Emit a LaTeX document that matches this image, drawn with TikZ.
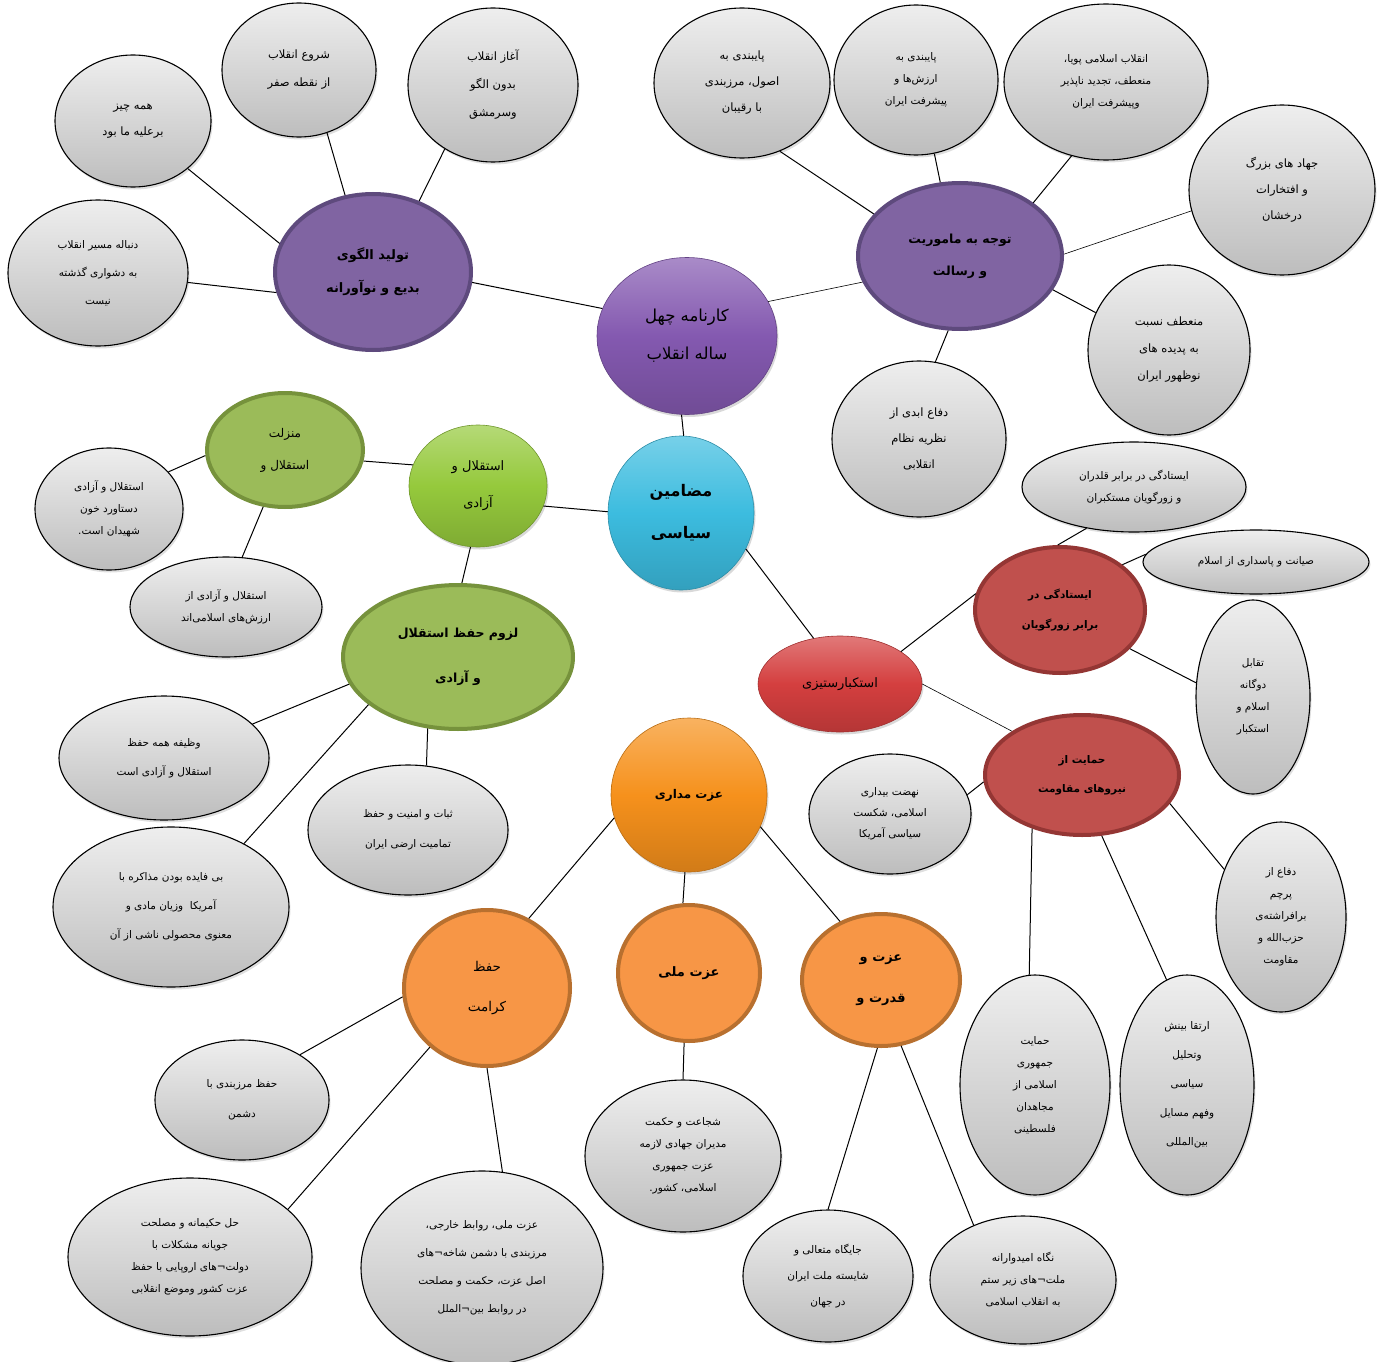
\documentclass[tikz,border=0pt]{standalone}
\usepackage{fontspec}
\newfontfamily\arabicfont[Script=Arabic]{DejaVu Sans}
\TeXXeTstate=1
\usetikzlibrary{shapes.geometric,shadows}
\newcommand\rtxt[1]{\beginR #1\endR}
\newcommand\fsz[2]{\arabicfont\fontsize{#1}{#2}\selectfont}
\definecolor{grayT}{HTML}{EEEEEE}
\definecolor{grayB}{HTML}{BDBDBD}
\definecolor{purpF}{HTML}{8064A2}
\definecolor{purpB}{HTML}{5E4A7D}
\definecolor{greenF}{HTML}{9BBB59}
\definecolor{greenB}{HTML}{76923C}
\definecolor{redF}{HTML}{C0504D}
\definecolor{redB}{HTML}{943634}
\definecolor{orangeF}{HTML}{F79646}
\definecolor{orangeB}{HTML}{B8702F}
\definecolor{purpG}{HTML}{8459B0}
\definecolor{cyanG}{HTML}{3CBCDF}
\definecolor{greenG}{HTML}{95C93C}
\definecolor{redG}{HTML}{D43F3F}
\definecolor{orangeG}{HTML}{F6911C}
\tikzset{
  sz/.style 2 args={minimum width=#1pt, minimum height=#2pt},
  basenode/.style={ellipse, inner sep=0pt, align=center},
  graynode/.style={basenode, draw=black, line width=1.1pt, top color=grayT, bottom color=grayB,
    drop shadow={shadow xshift=1.5pt, shadow yshift=-2.5pt, opacity=0.25}},
  flatnode/.style 2 args={basenode, fill=#1, draw=#2, line width=4pt},
  glossnode/.style={basenode, top color=#1!70!white, bottom color=#1!85!black, middle color=#1,
    draw=#1!75!black, line width=0.6pt,
    drop shadow={shadow xshift=1.5pt, shadow yshift=-2.5pt, opacity=0.3}},
  conn/.style={line width=1pt, black},
  thinconn/.style={line width=0.6pt, black}
}
\begin{document}
\begin{tikzpicture}[x=1pt,y=-1pt]
\useasboundingbox (0,0) rectangle (1387,1362);

% ---------- purple group ----------
\node[glossnode=purpG, sz={180}{157}, font=\fsz{16.5}{38}] (c) at (687,336) {\rtxt{کارنامه چهل}\\\rtxt{ساله انقلاب}};
\node[flatnode={purpF}{purpB}, sz={196}{156}, font=\fsz{13}{33}\bfseries] (p1) at (373,272) {\rtxt{تولید الگوی}\\\rtxt{بدیع و نوآورانه}};
\node[flatnode={purpF}{purpB}, sz={204}{146}, font=\fsz{12.5}{32}\bfseries] (p2) at (960,256) {\rtxt{توجه به ماموریت}\\\rtxt{و رسالت}};

\node[graynode, sz={156}{132}, font=\fsz{11.5}{26}] (g1) at (133,121) {\rtxt{همه چیز}\\\rtxt{برعلیه ما بود}};
\node[graynode, sz={154}{134}, font=\fsz{11.5}{28}] (g2) at (299,70) {\rtxt{شروع انقلاب}\\\rtxt{از نقطه صفر}};
\node[graynode, sz={170}{154}, font=\fsz{11.5}{28}] (g3) at (493,85) {\rtxt{آغاز انقلاب}\\\rtxt{بدون الگو}\\\rtxt{وسرمشق}};
\node[graynode, sz={180}{146}, font=\fsz{10.5}{28}] (g4) at (98,273) {\rtxt{دنباله مسیر انقلاب}\\\rtxt{به دشواری گذشته}\\\rtxt{نیست}};

\node[graynode, sz={176}{150}, font=\fsz{11.5}{26}] (g5) at (742,83) {\rtxt{پایبندی به}\\\rtxt{اصول، مرزبندی}\\\rtxt{با رقیبان}};
\node[graynode, sz={164}{150}, font=\fsz{10.5}{22}] (g6) at (916,80) {\rtxt{پایبندی به}\\\rtxt{ارزش‌ها و}\\\rtxt{پیشرفت ایران}};
\node[graynode, sz={204}{156}, font=\fsz{10.5}{22}] (g7) at (1106,82) {\rtxt{انقلاب اسلامی پویا،}\\\rtxt{منعطف، تجدید ناپذیر}\\\rtxt{وپیشرفت ایران}};
\node[graynode, sz={186}{170}, font=\fsz{11.5}{26}] (g8) at (1282,190) {\rtxt{جهاد های بزرگ}\\\rtxt{و افتخارات}\\\rtxt{درخشان}};
\node[graynode, sz={162}{170}, font=\fsz{11.5}{27}] (g9) at (1169,350) {\rtxt{منعطف نسبت}\\\rtxt{به پدیده های}\\\rtxt{نوظهور ایران}};
\node[graynode, sz={174}{156}, font=\fsz{11.5}{26}] (g10) at (919,439) {\rtxt{دفاع ابدی از}\\\rtxt{نظریه نظام}\\\rtxt{انقلابی}};

% ---------- cyan + green ----------
\node[glossnode=cyanG, sz={146}{154}, font=\fsz{16}{42}\bfseries] (s) at (681,513) {\rtxt{مضامین}\\\rtxt{سیاسی}};
\node[glossnode=greenG, sz={138}{122}, font=\fsz{13}{37}] (a) at (478,486) {\rtxt{استقلال و}\\\rtxt{آزادی}};
\node[flatnode={greenF}{greenB}, sz={156}{114}, font=\fsz{12}{32}] (m) at (285,450) {\rtxt{منزلت}\\\rtxt{استقلال و}};
\node[flatnode={greenF}{greenB}, sz={230}{144}, font=\fsz{12.5}{45}\bfseries] (l) at (458,657) {\rtxt{لزوم حفظ استقلال}\\\rtxt{و آزادی}};

\node[graynode, sz={148}{122}, font=\fsz{10.5}{22}] (g11) at (109,509) {\rtxt{استقلال و آزادی}\\\rtxt{دستاورد خون}\\\rtxt{شهیدان است.}};
\node[graynode, sz={192}{100}, font=\fsz{10.5}{22}] (g12) at (226,607) {\rtxt{استقلال و آزادی از}\\\rtxt{ارزش‌های اسلامی‌اند}};
\node[graynode, sz={210}{124}, font=\fsz{10.5}{29}] (g13) at (164,758) {\rtxt{وظیفه همه حفظ}\\\rtxt{استقلال و آزادی است}};
\node[graynode, sz={200}{130}, font=\fsz{10.5}{30}] (g14) at (408,830) {\rtxt{ثبات و امنیت و حفظ}\\\rtxt{تمامیت ارضی ایران}};
\node[graynode, sz={236}{160}, font=\fsz{10.5}{29}] (g15) at (171,907) {\rtxt{بی فایده بودن مذاکره با}\\\rtxt{آمریکا\ \ وزیان مادی و}\\\rtxt{معنوی محصولی ناشی از آن}};

% ---------- red ----------
\node[glossnode=redG, sz={164}{96}, font=\fsz{13}{30}] (r) at (840,684) {\rtxt{استکبارستیزی}};
\node[flatnode={redF}{redB}, sz={170}{126}, font=\fsz{10.5}{30}\bfseries] (r1) at (1060,610) {\rtxt{ایستادگی در}\\\rtxt{برابر زورگویان}};
\node[flatnode={redF}{redB}, sz={194}{120}, font=\fsz{10.5}{29}\bfseries] (r2) at (1082,775) {\rtxt{حمایت از}\\\rtxt{نیروهای مقاومت}};

\node[graynode, sz={224}{90}, font=\fsz{10.5}{22}] (g16) at (1134,487) {\rtxt{ایستادگی در برابر قلدران}\\\rtxt{و زورگویان مستکبران}};
\node[graynode, sz={226}{64}, font=\fsz{10.5}{22}] (g17) at (1256,562) {\rtxt{صیانت و پاسداری از اسلام}};
\node[graynode, sz={114}{194}, font=\fsz{10.5}{22}] (g18) at (1253,697) {\rtxt{تقابل}\\\rtxt{دوگانه}\\\rtxt{اسلام و}\\\rtxt{استکبار}};
\node[graynode, sz={162}{120}, font=\fsz{10.5}{21}] (g19) at (890,814) {\rtxt{نهضت بیداری}\\\rtxt{اسلامی، شکست}\\\rtxt{سیاسی آمریکا}};
\node[graynode, sz={130}{190}, font=\fsz{10.5}{22}] (g20) at (1281,917) {\rtxt{دفاع از}\\\rtxt{پرچم}\\\rtxt{برافراشته‌ی}\\\rtxt{حزب‌الله و}\\\rtxt{مقاومت}};
\node[graynode, sz={150}{220}, font=\fsz{10.5}{22}] (g21) at (1035,1085) {\rtxt{حمایت}\\\rtxt{جمهوری}\\\rtxt{اسلامی از}\\\rtxt{مجاهدان}\\\rtxt{فلسطینی}};
\node[graynode, sz={134}{220}, font=\fsz{10.5}{29}] (g22) at (1187,1085) {\rtxt{ارتقا بینش}\\\rtxt{وتحلیل}\\\rtxt{سیاسی}\\\rtxt{وفهم مسایل}\\\rtxt{بین‌المللی}};

% ---------- orange ----------
\node[glossnode=orangeG, sz={156}{154}, font=\fsz{12}{30}\bfseries] (o) at (689,795) {\rtxt{عزت مداری}};
\node[flatnode={orangeF}{orangeB}, sz={166}{156}, font=\fsz{13.5}{40}] (o1) at (487,988) {\rtxt{حفظ}\\\rtxt{کرامت}};
\node[flatnode={orangeF}{orangeB}, sz={142}{136}, font=\fsz{13}{30}\bfseries] (o2) at (689,973) {\rtxt{عزت ملی}};
\node[flatnode={orangeF}{orangeB}, sz={158}{132}, font=\fsz{13}{41}\bfseries] (o3) at (881,980) {\rtxt{عزت و}\\\rtxt{قدرت و}};

\node[graynode, sz={174}{120}, font=\fsz{10.5}{30}] (g23) at (242,1100) {\rtxt{حفظ مرزبندی با}\\\rtxt{دشمن}};
\node[graynode, sz={244}{158}, font=\fsz{10.5}{22}] (g24) at (190,1257) {\rtxt{حل حکیمانه و مصلحت}\\\rtxt{جویانه مشکلات با}\\\rtxt{دولت¬های اروپایی با حفظ}\\\rtxt{عزت کشور وموضع انقلابی}};
\node[graynode, sz={242}{194}, font=\fsz{10.5}{28}] (g25) at (482,1268) {\rtxt{عزت ملی، روابط خارجی،}\\\rtxt{مرزبندی با دشمن شاخه¬های}\\\rtxt{اصل عزت، حکمت و مصلحت}\\\rtxt{در روابط بین¬الملل}};
\node[graynode, sz={196}{152}, font=\fsz{10.5}{22}] (g26) at (683,1156) {\rtxt{شجاعت و حکمت}\\\rtxt{مدیران جهادی لازمه}\\\rtxt{عزت جمهوری}\\\rtxt{اسلامی، کشور.}};
\node[graynode, sz={170}{132}, font=\fsz{10.5}{26}] (g27) at (828,1276) {\rtxt{جایگاه متعالی و}\\\rtxt{شایسته ملت ایران}\\\rtxt{در جهان}};
\node[graynode, sz={186}{128}, font=\fsz{10.5}{22}] (g28) at (1023,1280) {\rtxt{نگاه امیدوارانه}\\\rtxt{ملت¬های زیر ستم}\\\rtxt{به انقلاب اسلامی}};

% ---------- connectors ----------
\draw[conn] (g1.-41.6) -- (p1.163);
\draw[conn] (g2.-66.9) -- (p1.110.8);
\draw[conn] (g3.233.3) -- (p1.57.6);
\draw[conn] (g4.-6.3) -- (p1.192.5);
\draw[conn] (p1.-6.3) -- (c.162);
\draw[thinconn] (c.23.6) -- (p2.195.4);
\draw[conn] (g5.-61.5) -- (p2.154.5);
\draw[conn] (g6.-76) -- (p2.105.4);
\draw[conn] (g7.245.2) -- (p2.36);
\draw[thinconn] (g8.193.4) -- (p2.1);
\draw[conn] (g9.153.7) -- (p2.-20.9);
\draw[conn] (g10.78.5) -- (p2.261.5);
\draw[conn] (c.266) -- (s.88.5);
\draw[conn] (a.-17.7) -- (s.179);
\draw[conn] (m.-8) -- (a.162);
\draw[conn] (g11.32.2) -- (m.184.3);
\draw[conn] (g12.72.5) -- (m.249.2);
\draw[conn] (a.263.9) -- (l.87.7);
\draw[conn] (g13.21.2) -- (l.194.3);
\draw[conn] (g14.74.7) -- (l.247.8);
\draw[conn] (g15.41) -- (l.208.1);
\draw[conn] (s.-29.3) -- (r.120.8);
\draw[conn] (r.28.7) -- (r1.169.5);
\draw[conn] (g16.221.4) -- (r1.92);
\draw[conn] (g17.176.5) -- (r1.36.3);
\draw[conn] (g18.166.2) -- (r1.-29.2);
\draw[thinconn] (r.-0.7) -- (r2.148.6);
\draw[conn] (g19.14.2) -- (r2.184.8);
\draw[conn] (g20.140.8) -- (r2.-18.4);
\draw[conn] (g21.93.6) -- (r2.227.8);
\draw[conn] (g22.101.5) -- (r2.288.1);
\draw[conn] (o.197) -- (o1.59.5);
\draw[conn] (o.267) -- (o2.95);
\draw[conn] (o.-24.9) -- (o3.125.6);
\draw[conn] (g23.38.7) -- (o1.186.8);
\draw[conn] (g24.26.6) -- (o1.226.5);
\draw[conn] (g25.78.7) -- (o1.270);
\draw[conn] (g26.90) -- (o2.266);
\draw[conn] (g27.90) -- (o3.267.5);
\draw[conn] (g28.132.8) -- (o3.287);
\end{tikzpicture}
\end{document}
